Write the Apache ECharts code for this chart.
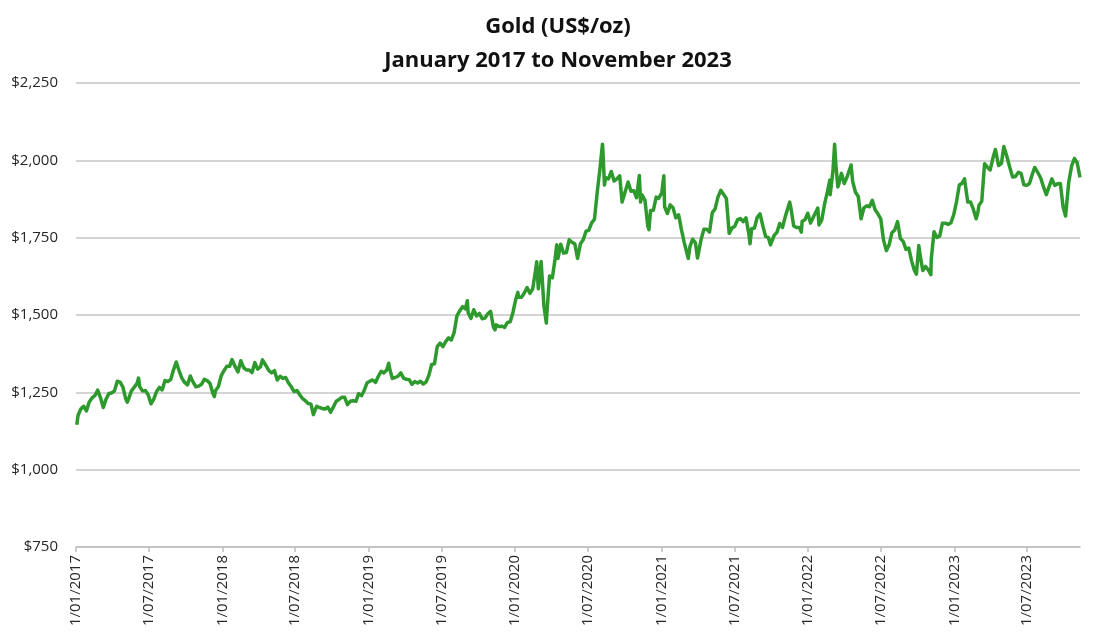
<!DOCTYPE html>
<html>
<head>
<meta charset="utf-8">
<script src="https://cdn.jsdelivr.net/npm/echarts@6/dist/echarts.min.js"></script>
<style>
html,body{margin:0;padding:0;background:#fff;}
#chart{width:1100px;height:642px;}
</style>
</head>
<body>
<div id="chart"></div>
<script>
// ---- Data ----
const dates = [
'2017-01-03','2017-01-06','2017-01-13','2017-01-20','2017-01-27','2017-02-03','2017-02-10','2017-02-17','2017-02-24','2017-03-03','2017-03-10','2017-03-17','2017-03-24','2017-03-31','2017-04-07','2017-04-14','2017-04-21','2017-04-28','2017-05-05','2017-05-09','2017-05-12','2017-05-19','2017-05-26','2017-06-02','2017-06-06','2017-06-09','2017-06-16','2017-06-23','2017-06-30','2017-07-07','2017-07-14','2017-07-21','2017-07-28','2017-08-04','2017-08-11','2017-08-18','2017-08-25','2017-09-01','2017-09-08','2017-09-15','2017-09-22','2017-09-29','2017-10-06','2017-10-13','2017-10-20','2017-10-27','2017-11-03','2017-11-10','2017-11-17','2017-11-24','2017-12-01','2017-12-08','2017-12-12','2017-12-15','2017-12-22','2017-12-29',
'2018-01-05','2018-01-12','2018-01-19','2018-01-25','2018-02-02','2018-02-09','2018-02-16','2018-02-23','2018-03-02','2018-03-09','2018-03-16','2018-03-23','2018-03-30','2018-04-06','2018-04-11','2018-04-20','2018-04-27','2018-05-04','2018-05-11','2018-05-18','2018-05-25','2018-06-01','2018-06-08','2018-06-15','2018-06-22','2018-06-29','2018-07-06','2018-07-13','2018-07-20','2018-07-27','2018-08-03','2018-08-10','2018-08-16','2018-08-24','2018-08-31','2018-09-07','2018-09-14','2018-09-21','2018-09-28','2018-10-05','2018-10-12','2018-10-19','2018-10-26','2018-11-02','2018-11-09','2018-11-16','2018-11-23','2018-11-30','2018-12-07','2018-12-14','2018-12-21','2018-12-28',
'2019-01-04','2019-01-11','2019-01-18','2019-01-25','2019-02-01','2019-02-08','2019-02-15','2019-02-20','2019-02-22','2019-03-01','2019-03-08','2019-03-15','2019-03-22','2019-03-29','2019-04-05','2019-04-12','2019-04-19','2019-04-26','2019-05-03','2019-05-10','2019-05-17','2019-05-24','2019-05-31','2019-06-07','2019-06-14','2019-06-21','2019-06-28','2019-07-05','2019-07-12','2019-07-19','2019-07-26','2019-08-02','2019-08-09','2019-08-16','2019-08-23','2019-08-30','2019-09-04','2019-09-06','2019-09-13','2019-09-20','2019-09-27','2019-10-04','2019-10-11','2019-10-18','2019-10-25','2019-11-01','2019-11-08','2019-11-12','2019-11-15','2019-11-22','2019-11-29','2019-12-06','2019-12-13','2019-12-20','2019-12-27',
'2020-01-03','2020-01-08','2020-01-10','2020-01-17','2020-01-24','2020-01-31','2020-02-07','2020-02-14','2020-02-21','2020-02-24','2020-02-28','2020-03-06','2020-03-09','2020-03-13','2020-03-19','2020-03-20','2020-03-27','2020-04-03','2020-04-10','2020-04-14','2020-04-17','2020-04-24','2020-05-01','2020-05-08','2020-05-15','2020-05-22','2020-05-29','2020-06-05','2020-06-12','2020-06-19','2020-06-26','2020-07-03','2020-07-10','2020-07-17','2020-07-24','2020-07-31','2020-08-06','2020-08-07','2020-08-11','2020-08-14','2020-08-21','2020-08-28','2020-09-04','2020-09-11','2020-09-18','2020-09-24','2020-10-02','2020-10-09','2020-10-16','2020-10-23','2020-10-30','2020-11-06','2020-11-09','2020-11-13','2020-11-20','2020-11-27','2020-11-30','2020-12-04','2020-12-11','2020-12-18','2020-12-24',
'2021-01-01','2021-01-06','2021-01-08','2021-01-15','2021-01-22','2021-01-29','2021-02-05','2021-02-12','2021-02-19','2021-02-26','2021-03-05','2021-03-08','2021-03-12','2021-03-19','2021-03-26','2021-03-31','2021-04-09','2021-04-16','2021-04-23','2021-04-30','2021-05-07','2021-05-14','2021-05-21','2021-05-28','2021-06-04','2021-06-11','2021-06-18','2021-06-25','2021-07-02','2021-07-09','2021-07-16','2021-07-23','2021-07-30','2021-08-06','2021-08-09','2021-08-13','2021-08-20','2021-08-27','2021-09-03','2021-09-10','2021-09-17','2021-09-24','2021-09-29','2021-10-08','2021-10-15','2021-10-22','2021-10-29','2021-11-05','2021-11-16','2021-11-19','2021-11-26','2021-12-03','2021-12-10','2021-12-15','2021-12-17','2021-12-24','2021-12-31',
'2022-01-07','2022-01-14','2022-01-21','2022-01-25','2022-01-28','2022-02-04','2022-02-11','2022-02-18','2022-02-24','2022-02-25','2022-03-04','2022-03-08','2022-03-11','2022-03-16','2022-03-18','2022-03-25','2022-04-01','2022-04-08','2022-04-18','2022-04-22','2022-04-29','2022-05-06','2022-05-13','2022-05-20','2022-05-27','2022-06-03','2022-06-10','2022-06-17','2022-06-24','2022-07-01','2022-07-08','2022-07-15','2022-07-22','2022-07-29','2022-08-05','2022-08-12','2022-08-19','2022-08-26','2022-09-02','2022-09-09','2022-09-16','2022-09-23','2022-09-28','2022-10-04','2022-10-07','2022-10-14','2022-10-21','2022-10-28','2022-11-03','2022-11-04','2022-11-11','2022-11-18','2022-11-25','2022-12-02','2022-12-09','2022-12-16','2022-12-23','2022-12-30',
'2023-01-06','2023-01-13','2023-01-20','2023-01-26','2023-02-03','2023-02-10','2023-02-17','2023-02-24','2023-02-28','2023-03-03','2023-03-10','2023-03-17','2023-03-24','2023-03-31','2023-04-07','2023-04-13','2023-04-21','2023-04-28','2023-05-04','2023-05-12','2023-05-19','2023-05-26','2023-06-02','2023-06-09','2023-06-16','2023-06-23','2023-06-30','2023-07-07','2023-07-14','2023-07-20','2023-07-28','2023-08-04','2023-08-11','2023-08-18','2023-08-25','2023-09-01','2023-09-08','2023-09-15','2023-09-22','2023-09-29','2023-10-05','2023-10-13','2023-10-20','2023-10-27','2023-11-03','2023-11-10'
];
const prices = [
1145,1175,1196,1205,1190,1219,1232,1239,1257,1233,1201,1228,1246,1248,1255,1286,1283,1267,1229,1218,1228,1254,1266,1278,1296,1268,1254,1256,1242,1213,1228,1253,1266,1258,1288,1285,1291,1322,1348,1320,1296,1282,1274,1303,1283,1268,1270,1276,1292,1288,1279,1248,1236,1256,1268,1303,
1320,1334,1334,1356,1333,1316,1352,1330,1322,1322,1314,1346,1325,1332,1355,1336,1320,1313,1320,1290,1302,1295,1298,1280,1268,1252,1256,1242,1230,1223,1214,1212,1178,1205,1201,1198,1196,1202,1186,1203,1221,1227,1234,1234,1210,1221,1223,1221,1246,1239,1257,1281,
1286,1290,1282,1302,1318,1313,1322,1344,1328,1295,1298,1302,1313,1296,1292,1291,1276,1285,1280,1286,1277,1283,1305,1340,1342,1398,1409,1398,1414,1426,1419,1443,1497,1513,1527,1520,1546,1507,1489,1517,1497,1505,1488,1490,1504,1512,1461,1452,1468,1463,1464,1460,1476,1478,1510,
1552,1573,1557,1557,1571,1589,1570,1584,1643,1672,1585,1673,1675,1530,1474,1498,1626,1620,1683,1727,1683,1729,1700,1702,1743,1735,1730,1683,1730,1743,1771,1774,1798,1809,1897,1975,2052,2035,1920,1944,1940,1964,1933,1940,1950,1865,1900,1930,1900,1902,1879,1951,1865,1888,1871,1788,1776,1838,1839,1881,1877,
1895,1950,1850,1828,1856,1847,1814,1824,1776,1734,1698,1683,1720,1745,1733,1684,1744,1777,1777,1768,1831,1843,1881,1903,1890,1877,1764,1781,1787,1808,1812,1802,1814,1763,1730,1779,1781,1816,1827,1788,1754,1750,1727,1757,1767,1796,1783,1818,1865,1846,1788,1783,1783,1768,1803,1808,1829,
1797,1817,1835,1846,1791,1807,1859,1898,1936,1889,1968,2052,1988,1914,1921,1958,1925,1946,1985,1932,1897,1883,1811,1846,1853,1850,1871,1840,1827,1811,1742,1708,1727,1766,1775,1802,1747,1738,1712,1716,1675,1644,1632,1725,1695,1644,1657,1645,1630,1681,1769,1751,1755,1797,1797,1793,1798,1824,
1866,1920,1926,1940,1865,1865,1842,1811,1830,1855,1868,1989,1978,1969,2008,2035,1983,1990,2045,2011,1977,1946,1948,1961,1958,1921,1919,1925,1955,1977,1960,1943,1914,1889,1915,1940,1919,1924,1925,1848,1820,1930,1981,2006,1992,1945
];
const tickDates = ['2017-01-01','2017-07-01','2018-01-01','2018-07-01','2019-01-01','2019-07-01','2020-01-01','2020-07-01','2021-01-01','2021-07-01','2022-01-01','2022-07-01','2023-01-01','2023-07-01'];
const tickLabels = ['1/01/2017','1/07/2017','1/01/2018','1/07/2018','1/01/2019','1/07/2019','1/01/2020','1/07/2020','1/01/2021','1/07/2021','1/01/2022','1/07/2022','1/01/2023','1/07/2023'];
const yTicks = [750,1000,1250,1500,1750,2000,2250];
const yLabels = ['$750','$1,000','$1,250','$1,500','$1,750','$2,000','$2,250'];
const titleText = 'Gold (US$/oz)\nJanuary 2017 to November 2023';

// ---- Build ----
function ts(s){const p=s.split('-');return Date.UTC(+p[0],+p[1]-1,+p[2]);}
const seriesData = dates.map((d,i)=>[ts(d),prices[i]]);
const tickTs = tickDates.map(ts);
const labelMap = {};
tickTs.forEach((t,i)=>{labelMap[t]=tickLabels[i];});
const yLabelMap = {};
yTicks.forEach((v,i)=>{yLabelMap[v]=yLabels[i];});

const FONT = "'Open Sans', sans-serif";
const chart = echarts.init(document.getElementById('chart'), null, {renderer:'canvas'});
chart.setOption({
  animation:false,
  backgroundColor:'#ffffff',
  title:{
    text:titleText,
    left:553, top:5, textAlign:'center',
    textStyle:{fontFamily:FONT,fontWeight:'bold',fontSize:22,color:'#111',lineHeight:34}
  },
  grid:{left:76,right:20,top:83,bottom:95,containLabel:false},
  xAxis:{
    type:'value',
    min:tickTs[0],
    max:seriesData[seriesData.length-1][0],
    axisLine:{show:true,lineStyle:{color:'#bfbfbf',width:1.5}},
    axisTick:{show:true,customValues:tickTs,length:5,lineStyle:{color:'#bfbfbf',width:1.5}},
    splitLine:{show:false},
    axisLabel:{
      customValues:tickTs,
      rotate:90,margin:8,
      fontFamily:FONT,fontSize:15,color:'#262626',
      formatter:function(v){return labelMap[v]||'';}
    }
  },
  yAxis:{
    type:'value',min:750,max:2250,interval:250,
    axisLine:{show:false},axisTick:{show:false},
    splitLine:{lineStyle:{color:'#d4d4d4',width:2}},
    axisLabel:{
      margin:18,fontFamily:FONT,fontSize:15,color:'#262626',
      formatter:function(v){return yLabelMap[v]||'';}
    }
  },
  series:[{
    type:'line',
    data:seriesData,
    showSymbol:false,
    symbol:'none',
    lineStyle:{color:'#2e9a2e',width:3.5,join:'round'},
    z:3
  }]
});
</script>
</body>
</html>
